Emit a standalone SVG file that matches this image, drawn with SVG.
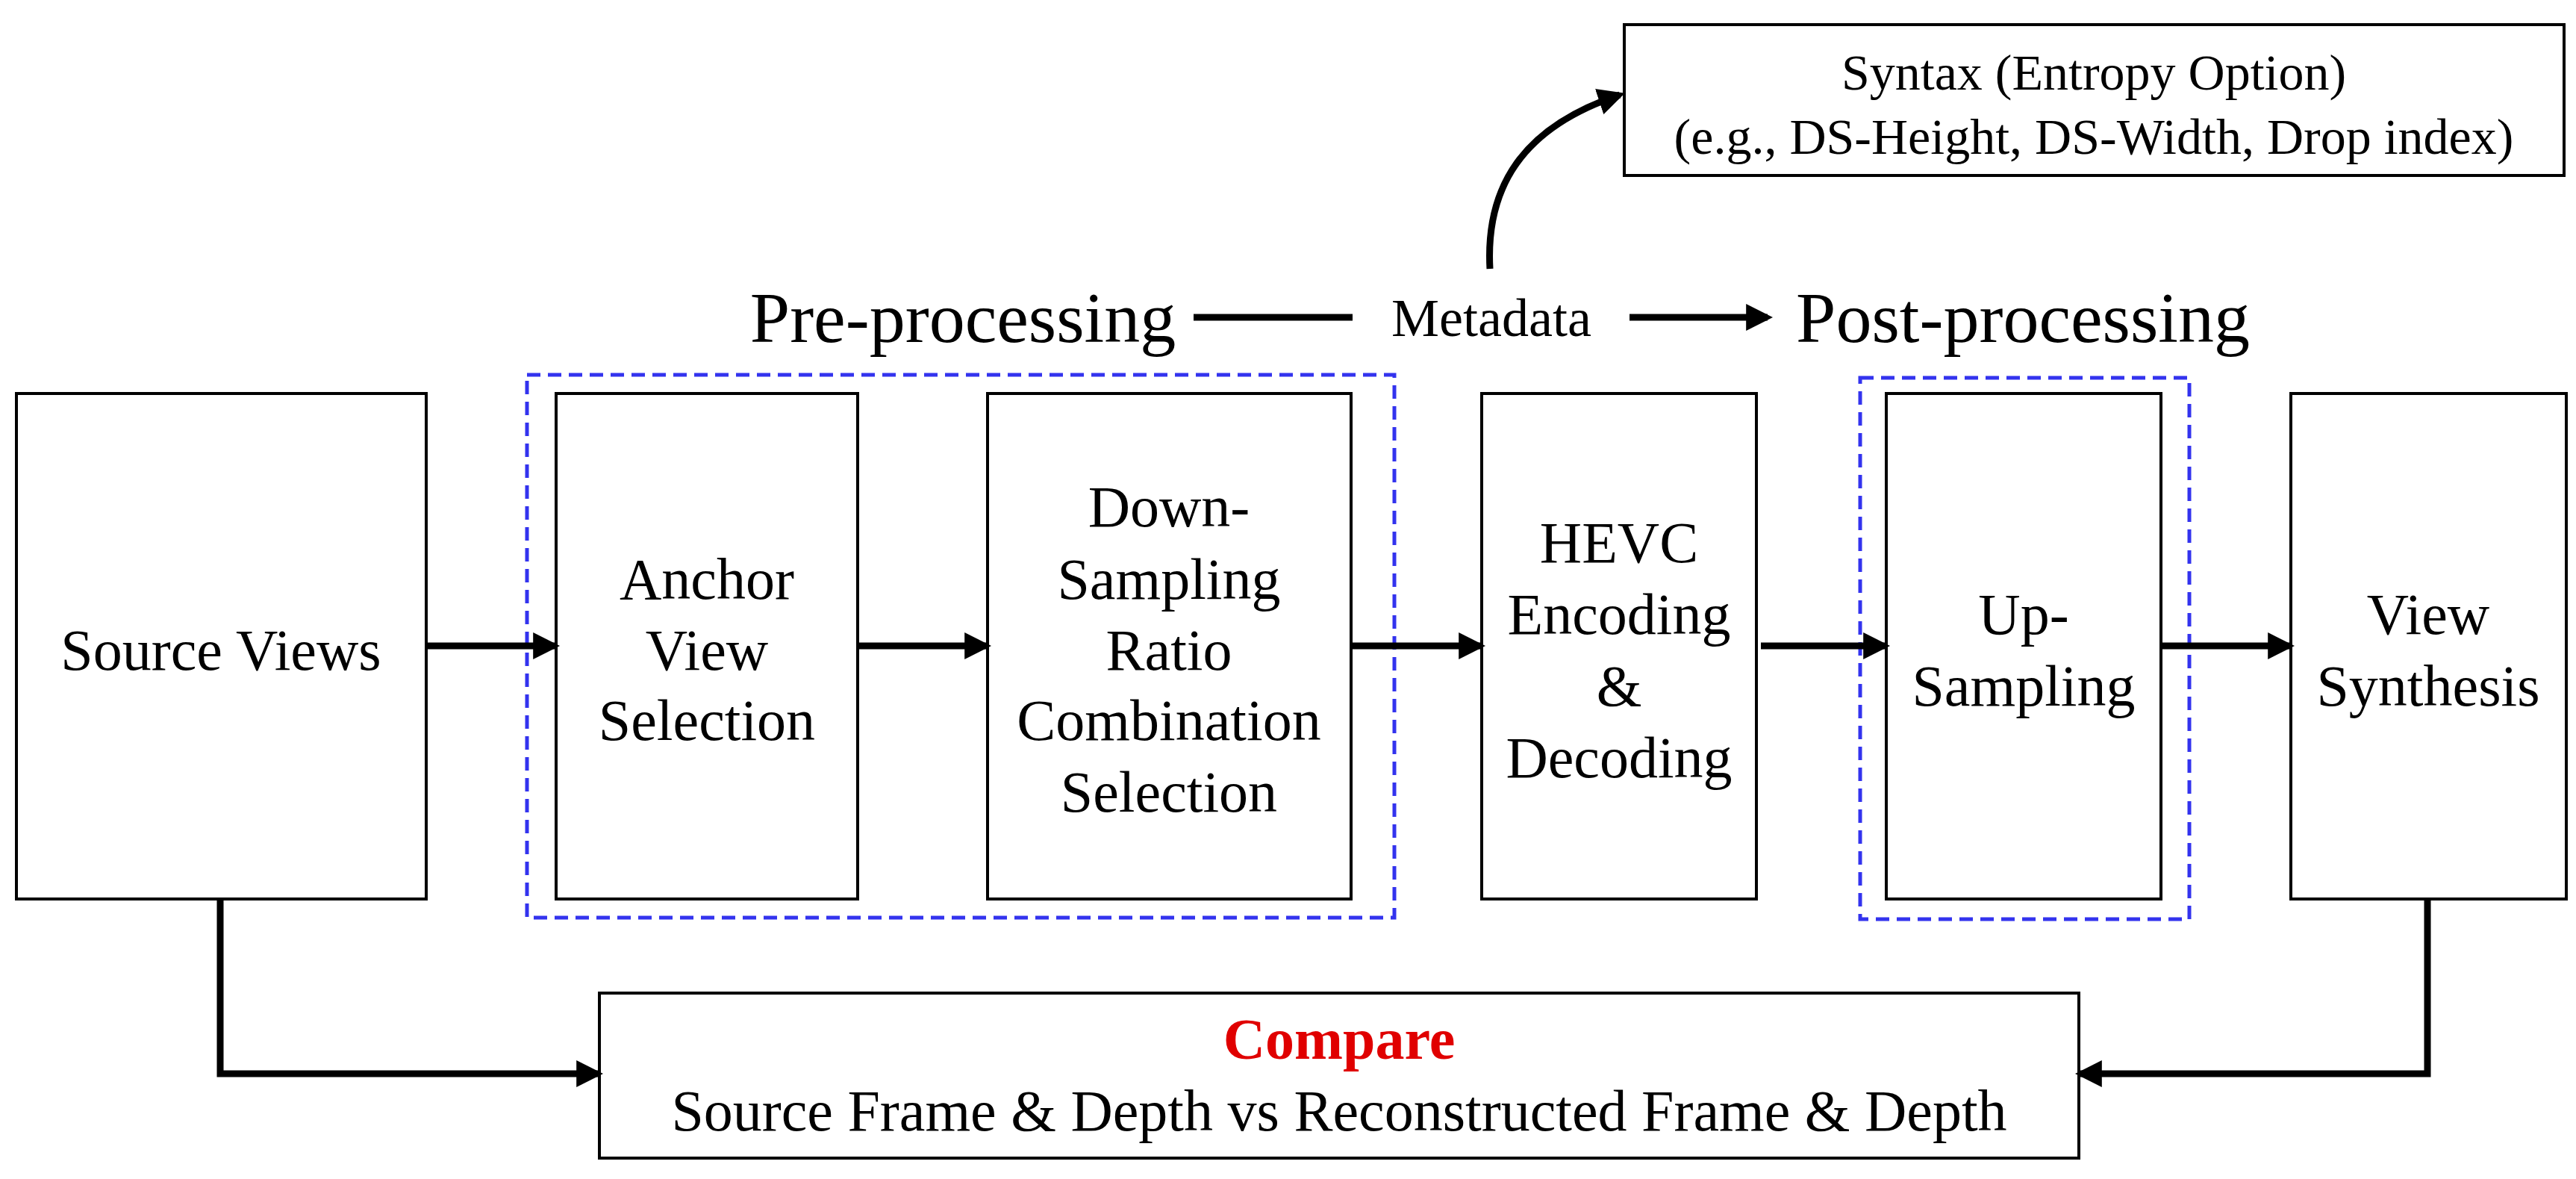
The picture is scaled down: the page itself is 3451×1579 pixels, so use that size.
<svg xmlns="http://www.w3.org/2000/svg" width="3451" height="1579" viewBox="0 0 3451 1579">
<style>
text{font-family:"Liberation Serif","Times New Roman",serif;fill:#000;text-anchor:middle}
.b{font-size:78px}
.s{font-size:68px}
.big{font-size:96px}
.box{fill:#fff;stroke:#000;stroke-width:4}
.dash{fill:none;stroke:#3333ee;stroke-width:5;stroke-dasharray:18 10}
.c{fill:none;stroke:#000;stroke-width:9}
</style>
<defs>
<marker id="ah" markerWidth="4" markerHeight="4" refX="3.2" refY="2" orient="auto" markerUnits="strokeWidth">
<path d="M0,0 L4,2 L0,4 Z" fill="#000"/>
</marker>
</defs>
<rect width="3451" height="1579" fill="#fff"/>
<g id="grp-pre"><rect class="dash" x="706" y="502" width="1162" height="727"/></g>
<g id="grp-post"><rect class="dash" x="2492" y="506" width="441" height="725"/></g>
<g id="syntax"><rect class="box" x="2176" y="33" width="1259" height="202"/>
<text class="s" x="2805" y="120">Syntax (Entropy Option)</text>
<text class="s" x="2805" y="206">(e.g., DS-Height, DS-Width, Drop index)</text></g>
<g id="labels">
<text class="big" x="1290" y="458">Pre-processing</text>
<text style="font-size:72px" x="1998" y="450">Metadata</text>
<text class="big" x="2710" y="458">Post-processing</text>
</g>
<g id="source"><rect class="box" x="22" y="527" width="549" height="677"/><text class="b" x="296" y="897">Source Views</text></g>
<g id="anchor"><rect class="box" x="745" y="527" width="404" height="677"/>
<text class="b" x="947" y="802">Anchor</text><text class="b" x="947" y="897">View</text><text class="b" x="947" y="991">Selection</text></g>
<g id="down"><rect class="box" x="1323" y="527" width="487" height="677"/>
<text class="b" x="1566" y="705">Down-</text><text class="b" x="1566" y="802">Sampling</text><text class="b" x="1566" y="897">Ratio</text><text class="b" x="1566" y="991">Combination</text><text class="b" x="1566" y="1087">Selection</text></g>
<g id="hevc"><rect class="box" x="1985" y="527" width="368" height="677"/>
<text class="b" x="2169" y="753">HEVC</text><text class="b" x="2169" y="849">Encoding</text><text class="b" x="2169" y="945">&amp;</text><text class="b" x="2169" y="1041">Decoding</text></g>
<g id="up"><rect class="box" x="2527" y="527" width="368" height="677"/>
<text class="b" x="2711" y="849">Up-</text><text class="b" x="2711" y="945">Sampling</text></g>
<g id="synth"><rect class="box" x="3069" y="527" width="369" height="677"/>
<text class="b" x="3253" y="849">View</text><text class="b" x="3253" y="945">Synthesis</text></g>
<g id="compare"><rect class="box" x="803" y="1330" width="1982" height="221"/>
<text class="b" x="1794" y="1418" style="fill:#e00000;font-weight:bold">Compare</text>
<text class="b" x="1794" y="1514">Source Frame &amp; Depth vs Reconstructed Frame &amp; Depth</text></g>
<g id="connectors">
<line class="c" x1="1599" y1="425" x2="1812" y2="425"/>
<line class="c" x1="2183" y1="425" x2="2368" y2="425" marker-end="url(#ah)"/>
<path class="c" d="M1996,360 C1990,250 2040,170 2170,127" marker-end="url(#ah)"/>
<line class="c" x1="571" y1="865" x2="743" y2="865" marker-end="url(#ah)"/>
<line class="c" x1="1149" y1="865" x2="1321" y2="865" marker-end="url(#ah)"/>
<line class="c" x1="1810" y1="865" x2="1983" y2="865" marker-end="url(#ah)"/>
<line class="c" x1="2359" y1="865" x2="2525" y2="865" marker-end="url(#ah)"/>
<line class="c" x1="2895" y1="865" x2="3067" y2="865" marker-end="url(#ah)"/>
<path class="c" d="M295,1204 V1438 H801" marker-end="url(#ah)"/>
<path class="c" d="M3252,1204 V1438 H2787" marker-end="url(#ah)"/>
</g>
</svg>
